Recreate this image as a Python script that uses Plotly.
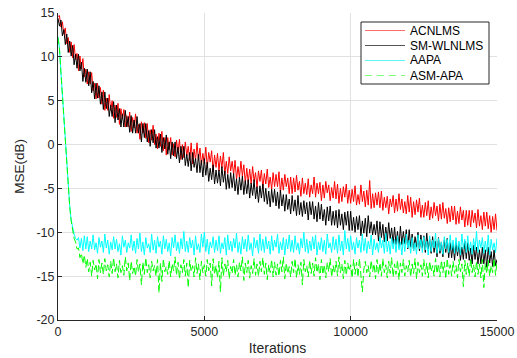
import plotly.graph_objects as go

iterations = list(range(0, 15001, 50))

acnlms = [
    14.6, 14.7, 13.4, 14.0, 12.6, 13.3, 11.5, 12.2, 10.5, 11.7,
    9.9, 11.4, 9.7, 10.4, 8.4, 10.1, 8.6, 9.8, 7.7, 8.6,
    6.9, 8.3, 6.9, 8.2, 6.1, 7.0, 5.2, 7.0, 5.3, 6.5,
    4.6, 6.2, 3.9, 5.3, 3.9, 5.7, 3.9, 5.0, 3.0, 4.5,
    3.1, 4.7, 2.3, 4.1, 2.9, 4.0, 2.0, 3.3, 2.0, 3.7,
    1.5, 3.1, 1.9, 3.5, 1.3, 2.3, 0.6, 2.6, 1.3, 2.5,
    0.7, 2.4, 0.2, 1.7, 0.5, 2.2, 0.0, 1.2, -0.5, 1.3,
    -0.2, 1.5, -0.7, 0.8, -1.2, 0.8, -0.6, 0.8, -1.2, 0.1,
    -1.4, 0.5, -0.9, 0.6, -1.7, 0.0, -1.5, 0.3, -1.3, -0.2,
    -1.8, 0.2, -2.2, -0.5, -1.8, 0.2, -1.8, -0.4, -2.3, -1.0,
    -2.2, -0.3, -2.6, -0.9, -2.0, -0.7, -3.1, -1.2, -2.6, -1.0,
    -3.0, -1.3, -2.7, -0.9, -3.4, -1.9, -3.3, -1.4, -3.0, -1.9,
    -3.4, -1.8, -4.0, -2.5, -3.8, -1.9, -3.6, -2.3, -4.4, -2.7,
    -4.3, -2.8, -4.5, -2.5, -4.2, -3.2, -4.9, -3.0, -4.2, -2.9,
    -5.0, -3.3, -4.5, -2.8, -4.9, -3.7, -5.1, -3.2, -4.8, -3.4,
    -4.8, -3.1, -5.5, -3.8, -5.2, -3.4, -4.8, -3.8, -5.6, -3.7,
    -5.6, -3.8, -5.4, -3.5, -5.2, -4.2, -5.9, -3.8, -5.6, -4.4,
    -5.7, -3.9, -6.0, -4.6, -5.6, -3.7, -6.0, -4.4, -5.6, -4.3,
    -6.4, -4.6, -6.1, -4.2, -5.5, -4.6, -6.4, -4.9, -6.1, -4.2,
    -6.2, -4.5, -6.7, -5.0, -6.5, -4.8, -6.0, -4.5, -6.7, -5.2,
    -6.7, -5.1, -6.5, -4.7, -6.9, -5.7, -6.8, -4.6, -6.5, -5.3,
    -7.1, -5.2, -6.9, -4.1, -7.3, -5.6, -7.2, -5.5, -6.9, -5.4,
    -7.2, -5.3, -7.5, -6.0, -7.2, -5.9, -7.9, -6.2, -7.1, -5.8,
    -7.8, -6.2, -7.6, -5.6, -7.4, -6.2, -7.8, -6.5, -7.9, -5.8,
    -7.7, -6.0, -8.3, -6.5, -8.0, -6.3, -7.7, -6.1, -8.3, -6.9,
    -8.3, -6.6, -8.1, -6.4, -8.6, -7.1, -8.4, -6.6, -8.1, -7.0,
    -8.7, -6.8, -8.5, -6.6, -8.4, -7.3, -9.0, -7.2, -8.8, -7.0,
    -8.6, -7.0, -9.1, -7.6, -9.0, -7.1, -8.6, -7.5, -9.4, -7.5,
    -9.2, -7.5, -9.4, -7.5, -8.9, -7.8, -9.5, -7.4, -9.3, -8.1,
    -9.7, -7.7, -9.3, -7.7, -9.6, -8.1, -10.0, -8.2, -9.7, -7.9,
    -9.8,
]

sm_wlnlms = [
    14.4, 13.5, 14.2, 12.4, 13.1, 11.4, 12.6, 10.5, 11.8, 10.1,
    11.3, 9.1, 10.3, 8.7, 10.3, 8.4, 9.4, 7.2, 8.7, 7.1,
    8.6, 6.7, 8.3, 5.9, 7.2, 5.2, 7.0, 5.3, 6.7, 4.6,
    6.0, 4.0, 6.0, 4.1, 5.3, 3.2, 4.5, 3.2, 4.9, 2.5,
    4.5, 2.8, 4.1, 2.0, 3.5, 2.0, 3.9, 2.0, 3.2, 1.4,
    3.3, 1.3, 2.8, 1.3, 3.2, 1.3, 2.4, 0.3, 2.4, 0.8,
    2.4, 0.3, 1.6, -0.2, 1.7, 0.2, 1.7, -0.4, 0.9, -0.4,
    1.2, -0.9, 0.8, -0.5, 1.1, -1.1, 0.3, -1.6, 0.3, -1.3,
    0.3, -1.6, -0.3, -2.1, -0.2, -1.7, -0.2, -2.4, -1.1, -2.5,
    -0.9, -3.0, -0.9, -2.6, -1.6, -3.2, -1.1, -3.2, -1.8, -3.7,
    -1.6, -3.5, -2.0, -4.2, -2.7, -4.0, -2.3, -4.5, -2.9, -4.4,
    -2.9, -4.7, -2.5, -4.3, -3.0, -5.1, -3.4, -5.0, -3.2, -4.9,
    -3.3, -5.3, -3.9, -5.7, -3.7, -5.2, -3.6, -5.7, -4.1, -5.6,
    -4.0, -6.1, -4.4, -5.8, -4.0, -6.2, -4.8, -6.6, -4.7, -6.1,
    -4.5, -6.5, -5.0, -6.8, -5.3, -7.1, -5.1, -6.6, -5.1, -7.0,
    -5.4, -7.3, -5.2, -7.0, -5.7, -7.6, -5.7, -7.4, -6.2, -7.9,
    -5.8, -7.6, -6.3, -8.1, -5.8, -8.0, -6.6, -8.2, -6.4, -7.9,
    -6.6, -8.6, -6.5, -8.0, -6.5, -8.5, -7.0, -8.8, -6.6, -8.5,
    -6.8, -8.7, -7.4, -9.2, -7.1, -8.7, -7.0, -9.2, -7.6, -9.2,
    -7.5, -9.5, -7.4, -9.2, -7.9, -9.7, -7.7, -9.2, -7.6, -9.8,
    -7.6, -9.8, -8.3, -10.0, -8.2, -9.7, -8.1, -10.4, -8.7, -10.1,
    -8.4, -10.5, -8.1, -10.1, -8.8, -10.3, -9.1, -10.3, -8.7, -11.0,
    -8.8, -10.6, -9.1, -11.1, -9.4, -11.0, -8.9, -10.7, -9.5, -11.3,
    -9.4, -11.4, -9.9, -11.7, -9.3, -11.4, -9.9, -11.3, -9.7, -11.9,
    -9.7, -11.7, -10.2, -12.1, -10.5, -11.7, -10.0, -12.1, -10.3, -11.8,
    -10.4, -12.3, -10.1, -11.9, -10.8, -12.4, -10.5, -12.3, -11.0, -12.8,
    -10.6, -12.4, -11.1, -12.8, -10.9, -12.3, -10.7, -12.9, -11.2, -12.9,
    -11.3, -13.2, -11.1, -12.7, -11.3, -13.2, -11.7, -13.1, -11.0, -13.0,
    -11.2, -13.2, -11.8, -13.6, -11.5, -13.1, -11.7, -13.6, -12.0, -13.6,
    -11.7, -13.6, -12.0, -14.0, -11.7, -13.5, -12.2, -13.9, -12.0, -13.8,
    -13.1,
]

aapa = [
    12.3, 11.0, 8.3, 5.6, 2.8, 0.1, -2.5, -5.0, -7.0, -8.6,
    -9.6, -10.2, -10.7, -10.9, -10.6, -11.8, -10.7, -12.1, -10.4, -11.9,
    -10.5, -12.2, -11.0, -11.9, -10.3, -12.0, -11.2, -12.4, -10.6, -11.7,
    -11.0, -12.3, -10.2, -11.8, -10.9, -12.5, -11.1, -12.0, -10.5, -11.9,
    -10.8, -12.2, -11.3, -12.6, -10.4, -11.7, -10.9, -12.3, -11.2, -11.8,
    -10.3, -12.1, -11.0, -12.4, -10.7, -11.9, -10.1, -12.2, -11.1, -12.6,
    -10.6, -11.8, -11.3, -12.3, -10.2, -12.0, -10.9, -12.4, -10.5, -11.7,
    -11.0, -12.5, -10.4, -11.9, -10.8, -12.2, -11.2, -12.7, -10.6, -11.8,
    -10.3, -12.1, -11.1, -12.4, -10.7, -11.9, -9.9, -12.2, -11.0, -12.3,
    -10.6, -11.8, -10.9, -12.6, -10.4, -12.0, -11.3, -12.3, -10.2, -11.7,
    -10.0, -12.2, -10.8, -12.5, -11.1, -11.8, -10.5, -12.3, -10.9, -12.1,
    -10.4, -12.4, -11.2, -11.9, -10.6, -12.6, -10.3, -12.0, -11.0, -12.2,
    -10.7, -11.8, -10.1, -12.3, -11.1, -12.5, -10.5, -11.9, -10.8, -12.2,
    -10.3, -12.0, -11.2, -12.7, -10.6, -11.8, -10.9, -12.4, -10.2, -12.1,
    -10.8, -12.3, -10.5, -11.9, -11.0, -12.5, -10.4, -12.1, -10.9, -11.7,
    -10.2, -12.4, -11.1, -12.0, -10.6, -12.6, -10.8, -11.9, -10.3, -12.2,
    -10.9, -12.3, -10.4, -12.0, -11.2, -12.5, -10.7, -11.8, -10.0, -12.2,
    -10.8, -12.4, -11.0, -12.1, -10.5, -11.9, -10.3, -12.6, -11.1, -12.0,
    -10.6, -12.2, -10.9, -12.5, -10.2, -11.8, -11.2, -12.3, -10.5, -12.0,
    -10.8, -12.4, -10.3, -12.1, -11.0, -12.6, -9.8, -11.9, -10.7, -12.2,
    -10.4, -12.0, -11.1, -12.5, -10.6, -11.8, -10.9, -12.3, -10.2, -12.1,
    -10.7, -12.4, -11.0, -11.9, -10.3, -12.6, -10.8, -12.0, -11.2, -12.3,
    -10.5, -11.8, -10.9, -12.4, -10.1, -12.2, -11.0, -12.5, -10.6, -11.9,
    -10.8, -12.3, -10.4, -12.0, -11.1, -12.6, -10.7, -12.2, -10.2, -11.8,
    -10.9, -12.4, -10.6, -12.1, -11.2, -12.5, -10.3, -11.9, -10.8, -12.3,
    -10.5, -12.0, -11.0, -12.6, -10.4, -12.2, -10.9, -11.8, -10.1, -12.4,
    -10.7, -12.1, -11.1, -12.5, -10.5, -11.9, -10.8, -12.3, -10.3, -12.0,
    -10.9, -12.4, -10.6, -12.2, -11.0, -12.6, -10.2, -11.9, -10.8, -12.3,
    -10.4, -12.1, -11.1, -12.5, -10.7, -12.0, -9.9, -12.3, -10.9, -11.8,
    -10.6, -12.4, -11.0, -12.2, -10.3, -12.6, -10.8, -12.0, -11.2, -12.3,
    -10.7,
]

asm_apa = [
    12.2, 10.9, 8.2, 5.5, 2.7, 0.0, -2.6, -5.1, -7.1, -8.7,
    -9.8, -10.7, -11.1, -11.9, -11.8, -12.9, -12.4, -13.6, -12.6, -14.0,
    -13.0, -14.5, -13.4, -15.0, -13.2, -14.3, -13.6, -15.3, -13.1, -14.6,
    -13.5, -14.8, -13.0, -14.4, -13.7, -15.1, -13.3, -14.7, -12.9, -14.5,
    -13.6, -15.2, -13.2, -14.6, -13.8, -14.9, -12.8, -14.4, -13.5, -15.5,
    -13.3, -14.7, -13.9, -15.0, -13.1, -14.5, -13.6, -16.0, -13.4, -14.8,
    -12.9, -14.6, -13.7, -15.2, -13.3, -14.4, -13.8, -15.0, -13.1, -16.9,
    -13.5, -15.6, -13.0, -14.5, -13.9, -14.8, -13.2, -15.1, -13.6, -14.4,
    -12.8, -14.9, -13.4, -15.3, -13.7, -14.6, -13.1, -15.0, -13.5, -16.3,
    -13.2, -14.5, -13.8, -15.1, -12.9, -14.7, -13.6, -15.4, -13.3, -14.6,
    -13.7, -15.0, -13.1, -14.4, -13.5, -16.1, -13.0, -14.8, -13.8, -15.2,
    -13.3, -16.8, -12.9, -15.0, -13.6, -14.5, -13.2, -15.3, -13.9, -14.7,
    -13.1, -14.9, -13.7, -15.1, -13.4, -14.4, -12.8, -15.5, -13.5, -14.6,
    -13.2, -15.2, -13.8, -14.7, -13.0, -14.9, -13.6, -15.0, -13.3, -14.5,
    -12.9, -14.8, -13.5, -15.4, -13.7, -14.6, -13.1, -15.1, -13.4, -14.9,
    -13.6, -15.0, -13.2, -14.5, -12.8, -15.3, -13.5, -14.7, -13.9, -15.1,
    -13.3, -14.6, -13.0, -15.2, -13.7, -14.8, -13.4, -16.0, -13.1, -14.5,
    -13.8, -15.1, -13.2, -14.7, -13.5, -15.0, -12.9, -14.6, -13.6, -15.4,
    -13.1, -14.8, -13.7, -15.2, -13.4, -14.5, -13.0, -15.1, -13.8, -14.7,
    -13.3, -15.0, -12.8, -14.6, -13.6, -15.3, -13.2, -14.9, -13.5, -14.4,
    -13.7, -15.2, -13.1, -14.8, -13.4, -15.1, -13.0, -14.7, -16.8, -14.2,
    -13.3, -14.6, -13.8, -15.1, -13.2, -14.5, -13.6, -15.3, -13.1, -14.8,
    -13.5, -15.0, -13.0, -14.6, -13.7, -15.2, -13.3, -14.7, -12.9, -15.1,
    -13.6, -14.8, -13.2, -15.4, -13.5, -14.6, -13.1, -15.0, -13.8, -14.5,
    -13.2, -15.1, -13.6, -14.7, -13.0, -15.3, -13.4, -14.6, -13.7, -15.0,
    -13.1, -14.8, -13.5, -15.2, -13.3, -14.5, -13.8, -15.0, -13.0, -14.7,
    -13.6, -15.1, -13.2, -14.6, -13.4, -15.3, -13.0, -14.8, -13.7, -15.0,
    -13.3, -14.7, -13.8, -15.2, -13.1, -14.5, -13.6, -16.2, -13.2, -14.8,
    -13.5, -15.0, -13.0, -14.6, -13.7, -15.1, -13.3, -14.8, -13.6, -15.2,
    -13.1, -16.3, -13.5, -14.7, -13.2, -15.0, -13.8, -14.6, -13.0, -14.9,
    -13.4,
]

series_names = ["ACNLMS", "SM-WLNLMS", "AAPA", "ASM-APA"]
x_ticks = [0, 5000, 10000, 15000]
y_ticks = [-20, -15, -10, -5, 0, 5, 10, 15]

FONT = "Liberation Sans, Arial, sans-serif"
AXIS_COLOR = "#262626"
GRID_COLOR = "#e1e1e1"

W, H = 517, 358
ML, MR, MT, MB = 58, 20, 13, 38
PW, PH = W - ML - MR, H - MT - MB


def px(xp):
    return (xp - ML) / PW


def py(yp):
    return (H - MB - yp) / PH


fig = go.Figure()
styles = [
    (acnlms, "#ff0000", "solid", "#ff6a6a", "solid"),
    (sm_wlnlms, "#000000", "solid", "#555555", "solid"),
    (aapa, "#00ffff", "solid", "#5cf5f5", "solid"),
    (asm_apa, "#00ff00", "7px,3px", "#7cff7c", "7px,5px"),
]
for name, (vals, color, dash, _, _) in zip(series_names, styles):
    fig.add_trace(go.Scatter(
        x=iterations, y=vals, mode="lines", name=name,
        line=dict(color=color, width=1, dash=dash),
        showlegend=False,
    ))

# legend box drawn in the reference style (compact MATLAB-like legend)
shapes = [dict(type="rect", xref="paper", yref="paper",
               x0=px(361), x1=px(489), y0=py(84), y1=py(22),
               line=dict(color="#262626", width=1), fillcolor="white", layer="above")]
annotations = []
row_y = [30.5, 45.5, 60.5, 75.5]
for name, (_, _, _, lcolor, ldash), ry in zip(series_names, styles, row_y):
    shapes.append(dict(type="line", xref="paper", yref="paper",
                       x0=px(365), x1=px(405), y0=py(ry), y1=py(ry),
                       line=dict(color=lcolor, width=1, dash=ldash), layer="above"))
    annotations.append(dict(xref="paper", yref="paper", x=px(408), y=py(ry),
                            xanchor="left", yanchor="middle", text=name, showarrow=False,
                            font=dict(family=FONT, size=12, color="#000000")))

fig.update_layout(
    width=W, height=H,
    margin=dict(l=ML, r=MR, t=MT, b=MB),
    paper_bgcolor="white", plot_bgcolor="white",
    font=dict(family=FONT, size=12, color=AXIS_COLOR),
    showlegend=False,
    shapes=shapes, annotations=annotations,
)
fig.update_xaxes(
    range=[0, 15000], tickvals=x_ticks, ticktext=[str(v) for v in x_ticks],
    showgrid=True, gridcolor=GRID_COLOR, gridwidth=1,
    showline=True, linecolor=AXIS_COLOR, linewidth=1,
    ticks="inside", ticklen=4, tickcolor=AXIS_COLOR,
    zeroline=False, mirror=False, automargin=False,
    title=dict(text="Iterations", font=dict(size=14, family=FONT, color=AXIS_COLOR), standoff=5),
    tickfont=dict(size=12.5, family=FONT, color=AXIS_COLOR),
)
fig.update_yaxes(
    range=[-20, 15], tickvals=y_ticks, ticktext=[str(v) for v in y_ticks],
    showgrid=True, gridcolor=GRID_COLOR, gridwidth=1,
    showline=True, linecolor=AXIS_COLOR, linewidth=1,
    ticks="inside", ticklen=4, tickcolor=AXIS_COLOR,
    zeroline=False, mirror=False, automargin=False,
    title=dict(text="MSE(dB)", font=dict(size=13.5, family=FONT, color=AXIS_COLOR), standoff=8),
    tickfont=dict(size=12.5, family=FONT, color=AXIS_COLOR),
)

fig.write_html("out.html")
